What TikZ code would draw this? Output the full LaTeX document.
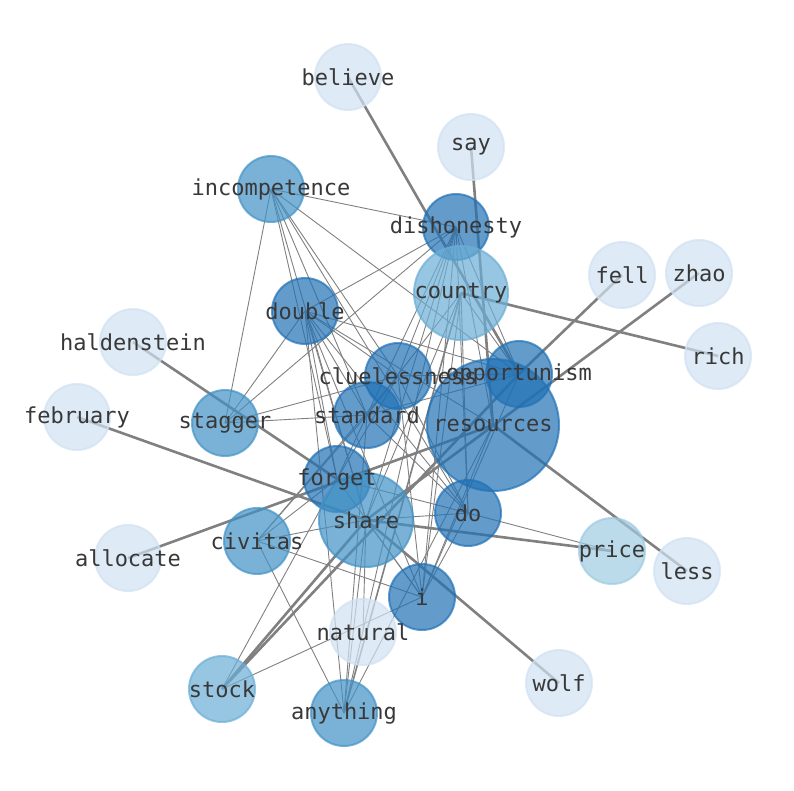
\documentclass[tikz,border=0pt]{standalone}
\usepackage{fontspec}
\setmainfont{DejaVu Sans Mono}
\usepackage{xcolor}
\definecolor{bluesA}{HTML}{D0E1F2}
\definecolor{bluesB}{HTML}{9ECAE1}
\definecolor{bluesC}{HTML}{6BAED6}
\definecolor{bluesD}{HTML}{4292C6}
\definecolor{bluesE}{HTML}{2171B5}
\tikzstyle{wordlink}=[draw=gray, line width=.9pt]
\tikzstyle{heavylink}=[draw=gray, line width=2.6pt]
\tikzstyle{wordlabel}=[text=black!78, inner sep=0pt, font=\fontsize{22}{26}\selectfont]
\newcommand{\wordDisc}[3]{
	\filldraw[fill=#3, draw=#3, fill opacity=.7, draw opacity=.7, line width=2pt] (#1) circle (#2);
}

\begin{document}
\begin{tikzpicture}[x=1pt, y=-1pt]
	\useasboundingbox (0,0) rectangle (794,790);
%
	\coordinate (believe) at (348,77);
	\coordinate (say) at (471,147);
	\coordinate (incompetence) at (271,189);
	\coordinate (dishonesty) at (456,227);
	\coordinate (fell) at (622,275);
	\coordinate (zhao) at (699,273);
	\coordinate (country) at (461,293);
	\coordinate (double) at (305,311);
	\coordinate (haldenstein) at (133,342);
	\coordinate (rich) at (718,356);
	\coordinate (cluelessness) at (398,376);
	\coordinate (opportunism) at (519,374);
	\coordinate (resources) at (493,425);
	\coordinate (standard) at (367,415);
	\coordinate (february) at (77,417);
	\coordinate (stagger) at (225,423);
	\coordinate (forget) at (337,479);
	\coordinate (share) at (366,520);
	\coordinate (do) at (468,513);
	\coordinate (civitas) at (257,541);
	\coordinate (allocate) at (128,558);
	\coordinate (price) at (612,551);
	\coordinate (less) at (687,571);
	\coordinate (i) at (422,597);
	\coordinate (natural) at (363,632);
	\coordinate (wolf) at (559,683);
	\coordinate (stock) at (222,689);
	\coordinate (anything) at (344,713);
%
	\draw[wordlink] (incompetence) -- (dishonesty);
	\draw[wordlink] (incompetence) -- (stagger);
	\draw[wordlink] (incompetence) -- (standard);
	\draw[wordlink] (incompetence) -- (share);
	\draw[wordlink] (incompetence) -- (forget);
	\draw[wordlink] (incompetence) -- (cluelessness);
	\draw[wordlink] (incompetence) -- (opportunism);
	\draw[wordlink] (incompetence) -- (do);
	\draw[wordlink] (dishonesty) -- (double);
	\draw[wordlink] (dishonesty) -- (stagger);
	\draw[wordlink] (dishonesty) -- (cluelessness);
	\draw[wordlink] (dishonesty) -- (standard);
	\draw[wordlink] (dishonesty) -- (share);
	\draw[wordlink] (dishonesty) -- (i);
	\draw[wordlink] (dishonesty) -- (do);
	\draw[wordlink] (dishonesty) -- (anything);
	\draw[wordlink] (dishonesty) -- (resources);
	\draw[wordlink] (dishonesty) -- (opportunism);
	\draw[wordlink] (double) -- (stagger);
	\draw[wordlink] (double) -- (cluelessness);
	\draw[wordlink] (double) -- (standard);
	\draw[wordlink] (double) -- (forget);
	\draw[wordlink] (double) -- (share);
	\draw[wordlink] (double) -- (do);
	\draw[wordlink] (double) -- (i);
	\draw[wordlink] (double) -- (anything);
	\draw[wordlink] (double) -- (resources);
	\draw[wordlink] (double) -- (opportunism);
	\draw[wordlink] (country) -- (share);
	\draw[wordlink] (country) -- (i);
	\draw[wordlink] (country) -- (do);
	\draw[wordlink] (country) -- (standard);
	\draw[wordlink] (country) -- (opportunism);
	\draw[wordlink] (cluelessness) -- (stagger);
	\draw[wordlink] (cluelessness) -- (standard);
	\draw[wordlink] (cluelessness) -- (forget);
	\draw[wordlink] (cluelessness) -- (do);
	\draw[wordlink] (cluelessness) -- (i);
	\draw[wordlink] (cluelessness) -- (civitas);
	\draw[wordlink] (cluelessness) -- (opportunism);
	\draw[wordlink] (standard) -- (stagger);
	\draw[wordlink] (standard) -- (opportunism);
	\draw[wordlink] (standard) -- (forget);
	\draw[wordlink] (standard) -- (civitas);
	\draw[wordlink] (standard) -- (do);
	\draw[wordlink] (standard) -- (anything);
	\draw[wordlink] (forget) -- (do);
	\draw[wordlink] (forget) -- (civitas);
	\draw[wordlink] (forget) -- (stock);
	\draw[wordlink] (forget) -- (i);
	\draw[wordlink] (share) -- (do);
	\draw[wordlink] (share) -- (civitas);
	\draw[wordlink] (share) -- (anything);
	\draw[wordlink] (share) -- (i);
	\draw[wordlink] (share) -- (natural);
	\draw[wordlink] (civitas) -- (i);
	\draw[wordlink] (civitas) -- (anything);
	\draw[wordlink] (stock) -- (i);
	\draw[wordlink] (do) -- (price);
	\draw[wordlink] (do) -- (i);
	\draw[wordlink] (resources) -- (i);
	\draw[wordlink] (resources) -- (anything);
	\draw[wordlink] (opportunism) -- (i);
%
	\draw[heavylink] (believe) -- (opportunism);
	\draw[heavylink] (say) -- (resources);
	\draw[heavylink] (fell) -- (opportunism);
	\draw[heavylink] (zhao) -- (share);
	\draw[heavylink] (rich) -- (country);
	\draw[heavylink] (haldenstein) -- (forget);
	\draw[heavylink] (february) -- (share);
	\draw[heavylink] (allocate) -- (resources);
	\draw[heavylink] (less) -- (resources);
	\draw[heavylink] (wolf) -- (share);
	\draw[heavylink] (price) -- (share);
	\draw[heavylink] (stock) -- (opportunism);
	\draw[heavylink] (stock) -- (share);
	\draw[heavylink, line width=1.6pt] (country) -- (anything);
%
	\wordDisc{believe}{33}{bluesA}
	\wordDisc{say}{33}{bluesA}
	\wordDisc{incompetence}{33}{bluesD}
	\wordDisc{dishonesty}{33}{bluesE}
	\wordDisc{fell}{33}{bluesA}
	\wordDisc{zhao}{33}{bluesA}
	\wordDisc{country}{47}{bluesC}
	\wordDisc{double}{33}{bluesE}
	\wordDisc{haldenstein}{33}{bluesA}
	\wordDisc{rich}{33}{bluesA}
	\wordDisc{cluelessness}{33}{bluesE}
	\wordDisc{opportunism}{33}{bluesE}
	\wordDisc{resources}{66}{bluesE}
	\wordDisc{standard}{33}{bluesE}
	\wordDisc{february}{33}{bluesA}
	\wordDisc{stagger}{33}{bluesD}
	\wordDisc{forget}{33}{bluesE}
	\wordDisc{share}{47}{bluesD}
	\wordDisc{do}{33}{bluesE}
	\wordDisc{civitas}{33}{bluesD}
	\wordDisc{allocate}{33}{bluesA}
	\wordDisc{price}{33}{bluesB}
	\wordDisc{less}{33}{bluesA}
	\wordDisc{i}{33}{bluesE}
	\wordDisc{natural}{33}{bluesA}
	\wordDisc{wolf}{33}{bluesA}
	\wordDisc{stock}{33}{bluesC}
	\wordDisc{anything}{33}{bluesD}
%
	\node[wordlabel] (believe-l) at (believe) {believe};
	\node[wordlabel] (say-l) at (say) {say};
	\node[wordlabel] (incompetence-l) at (incompetence) {incompetence};
	\node[wordlabel] (dishonesty-l) at (dishonesty) {dishonesty};
	\node[wordlabel] (fell-l) at (fell) {fell};
	\node[wordlabel] (zhao-l) at (zhao) {zhao};
	\node[wordlabel] (country-l) at (country) {country};
	\node[wordlabel] (double-l) at (double) {double};
	\node[wordlabel] (haldenstein-l) at (haldenstein) {haldenstein};
	\node[wordlabel] (rich-l) at (rich) {rich};
	\node[wordlabel] (cluelessness-l) at (cluelessness) {cluelessness};
	\node[wordlabel] (opportunism-l) at (opportunism) {opportunism};
	\node[wordlabel] (resources-l) at (resources) {resources};
	\node[wordlabel] (standard-l) at (standard) {standard};
	\node[wordlabel] (february-l) at (february) {february};
	\node[wordlabel] (stagger-l) at (stagger) {stagger};
	\node[wordlabel] (forget-l) at (forget) {forget};
	\node[wordlabel] (share-l) at (share) {share};
	\node[wordlabel] (do-l) at (do) {do};
	\node[wordlabel] (civitas-l) at (civitas) {civitas};
	\node[wordlabel] (allocate-l) at (allocate) {allocate};
	\node[wordlabel] (price-l) at (price) {price};
	\node[wordlabel] (less-l) at (less) {less};
	\node[wordlabel] (i-l) at (i) {i};
	\node[wordlabel] (natural-l) at (natural) {natural};
	\node[wordlabel] (wolf-l) at (wolf) {wolf};
	\node[wordlabel] (stock-l) at (stock) {stock};
	\node[wordlabel] (anything-l) at (anything) {anything};
\end{tikzpicture}
\end{document}
